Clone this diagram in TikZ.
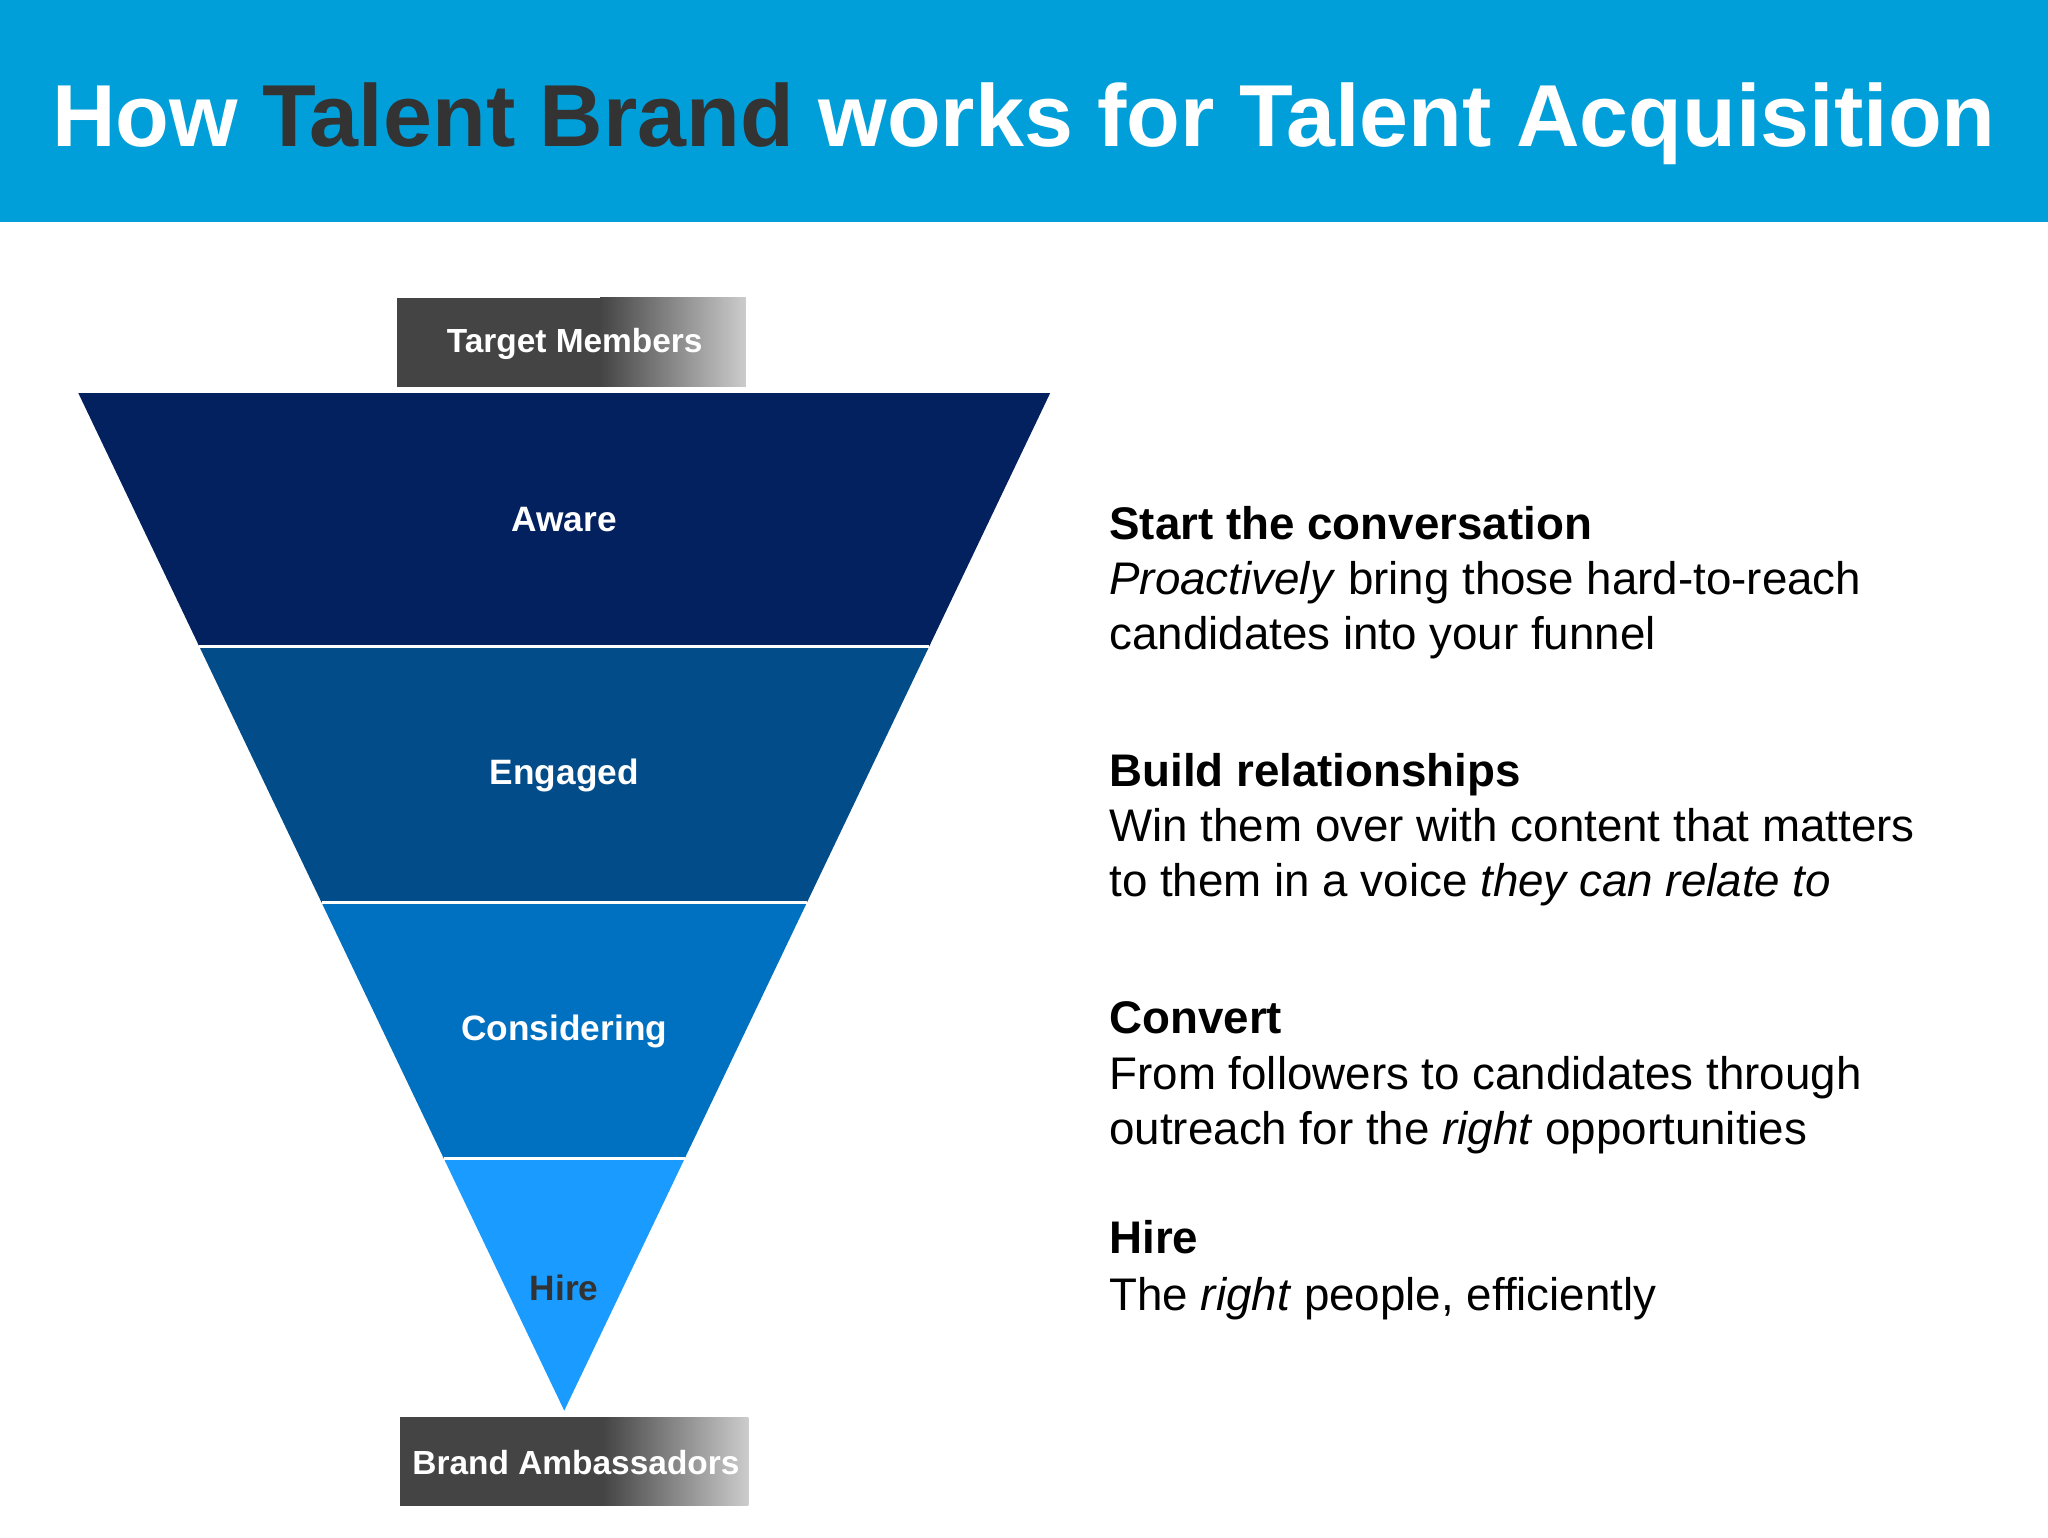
\documentclass[tikz,border=0pt]{standalone}
\usepackage{fontspec}
\setmainfont{Liberation Sans}
\definecolor{hdr}{HTML}{009FDA}
\definecolor{dk}{HTML}{333333}
\definecolor{bA}{HTML}{03205F}
\definecolor{bB}{HTML}{034C8A}
\definecolor{bC}{HTML}{0070C0}
\definecolor{bD}{HTML}{1A9BFF}
\definecolor{gbox}{HTML}{444444}
\begin{document}
\begin{tikzpicture}[x=0.5pt,y=-0.5pt,
  lab/.style={font=\fontsize{13.5}{15}\selectfont\bfseries,text=white},
  blab/.style={font=\fontsize{12.8}{15}\selectfont\bfseries,text=white},
  head/.style={anchor=base west,inner sep=0pt,font=\fontsize{17.5}{20}\selectfont\bfseries},
  body/.style={anchor=base west,inner sep=0pt,font=\fontsize{17.5}{21}\selectfont,align=left},
  sep/.style={white,line width=1.2pt}]
\useasboundingbox (0,0) rectangle (1568,1177);
\fill[white] (0,0) rectangle (1568,1177);
\fill[hdr] (0,0) rectangle (1568,170);
\node[anchor=base,text=white,font=\fontsize{33.7}{36}\selectfont\bfseries] (title) at (784,112)
  {How \textcolor{dk}{Talent Brand} works for Talent Acquisition};
% funnel
\fill[bA] (60,301) -- (804,301) -- (711.4,495) -- (152.6,495) -- cycle;
\fill[bB] (152.6,495) -- (711.4,495) -- (617.8,691) -- (246.2,691) -- cycle;
\fill[bC] (246.2,691) -- (617.8,691) -- (524.2,887) -- (339.8,887) -- cycle;
\fill[bD] (339.8,887) -- (524.2,887) -- (432,1080) -- cycle;
\draw[sep] (152.6,495) -- (711.4,495);
\draw[sep] (246.2,691) -- (617.8,691);
\draw[sep] (339.8,887) -- (524.2,887);
\node[lab] (aware) at (432,398) {Aware};
\node[lab] (eng) at (432,594) {Engaged};
\node[lab] (cons) at (432,790) {Considering};
\node[lab,text=dk] (hire) at (432,986) {Hire};
% boxes
\fill[gbox] (304,228) rectangle (460,296);
\shade[left color=gbox,right color=gray!40] (459.5,228) rectangle (571,296);
\node[blab] (tm) at (440,263) {Target Members};
\fill[gbox] (306,1085) rectangle (462,1153);
\shade[left color=gbox,right color=gray!40] (461.5,1085) rectangle (573,1153);
\node[blab] (ba) at (441,1120) {Brand Ambassadors};
% right text
\node[head] (h1) at (849,413) {Start the conversation};
\node[body] (t1a) at (849,455) {\textit{Proactively} bring those hard-to-reach};
\node[body] (t1b) at (849,497) {candidates into your funnel};
\node[head] (h2) at (849,602) {Build relationships};
\node[body] (t2a) at (849,644) {Win them over with content that matters};
\node[body] (t2b) at (849,686) {to them in a voice \textit{they can relate to}};
\node[head] (h3) at (849,791) {Convert};
\node[body] (t3a) at (849,834) {From followers to candidates through};
\node[body] (t3b) at (849,876) {outreach for the \textit{right} opportunities};
\node[head] (h4) at (849,960) {Hire};
\node[body] (t4a) at (849,1003) {The \textit{right} people, efficiently};
\end{tikzpicture}
\end{document}
